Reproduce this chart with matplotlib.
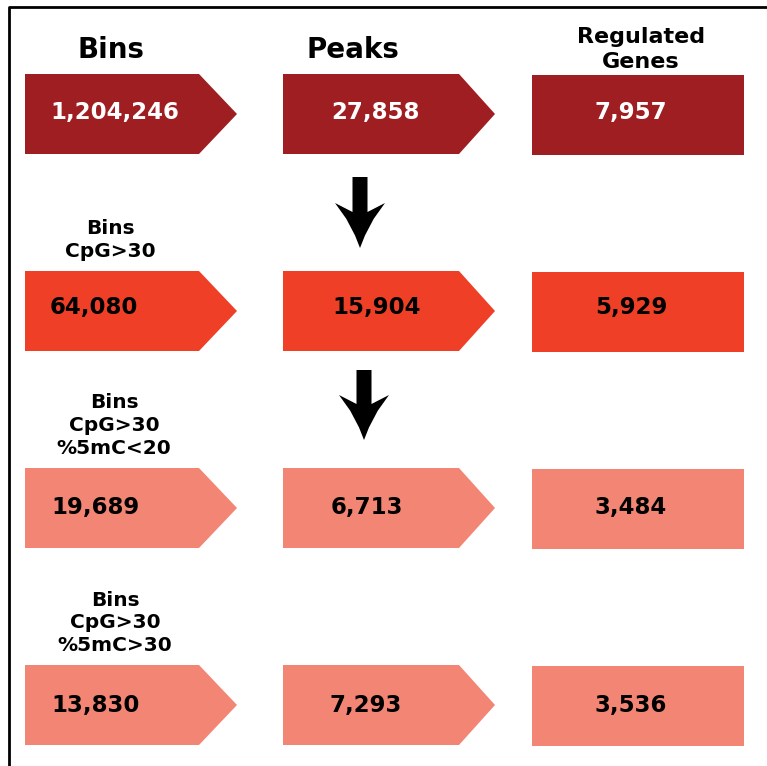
import matplotlib
matplotlib.use("Agg")
import matplotlib.pyplot as plt
from matplotlib.patches import Polygon, Rectangle

# ---- data ----
headers = ["Bins", "Peaks", "Regulated\nGenes"]
row_labels = ["", "Bins\nCpG>30", "Bins\nCpG>30\n%5mC<20", "Bins\nCpG>30\n%5mC>30"]
bins_counts = [1204246, 64080, 19689, 13830]
peaks_counts = [27858, 15904, 6713, 7293]
genes_counts = [7957, 5929, 3484, 3536]
row_colors = ["#9F1E22", "#EF4027", "#F38574", "#F38574"]
text_colors = ["white", "black", "black", "black"]

# ---- layout (pixel space) ----
W, H = 767, 766
row_top = [74, 271, 468, 665]
box_h = 80
baseline_off = [45, 43, 46, 47]
bins_x = (25, 199, 237)
peaks_x = (283, 459, 495)
genes_x = (532, 744)
bins_text_x = [115, 94, 95, 96]
peaks_text_x = [375, 377, 367, 366]
genes_text_x = 631
label_x = [0, 110, 114, 115]

plt.rcParams['font.family'] = ['DejaVu Sans']

fig = plt.figure(figsize=(W / 100, H / 100), dpi=100)
ax = fig.add_axes([0, 0, 1, 1])
ax.set_xlim(0, W)
ax.set_ylim(H, 0)
ax.axis("off")

# frame
ax.plot([9, 9, W], [H, 7, 7], color="black", lw=2, solid_capstyle="butt")

# headers
ax.text(111, 58, headers[0], ha="center", va="baseline", fontsize=20, fontweight="bold")
ax.text(353, 58, headers[1], ha="center", va="baseline", fontsize=20, fontweight="bold")
ax.text(641, 68, headers[2], ha="center", va="baseline", fontsize=16, fontweight="bold",
        linespacing=1.3)


def chevron(x, y0, color):
    x0, x1, tip = x
    y1 = y0 + box_h
    return Polygon([(x0, y0), (x1, y0), (tip, (y0 + y1) / 2), (x1, y1), (x0, y1)],
                   closed=True, facecolor=color, edgecolor="none")


for i in range(4):
    y0 = row_top[i]
    yb = y0 + baseline_off[i]
    c = row_colors[i]
    ax.add_patch(chevron(bins_x, y0, c))
    ax.add_patch(chevron(peaks_x, y0, c))
    ax.add_patch(Rectangle((genes_x[0], y0 + 1), genes_x[1] - genes_x[0], box_h,
                           facecolor=c, edgecolor="none"))
    tc = text_colors[i]
    kw = dict(ha="center", va="baseline", fontsize=16.5, fontweight="bold", color=tc)
    ax.text(bins_text_x[i], yb, f"{bins_counts[i]:,}", **kw)
    ax.text(peaks_text_x[i], yb, f"{peaks_counts[i]:,}", **kw)
    ax.text(genes_text_x, yb, f"{genes_counts[i]:,}", **kw)
    if row_labels[i]:
        ax.text(label_x[i], y0 - 14, row_labels[i], ha="center", va="baseline",
                fontsize=14.5, fontweight="bold", linespacing=1.25)


# down arrows (swept-back head)
def down_arrow(xc, ytop, ytip, shaft=15, head=50, head_len=45):
    s, h = shaft / 2, head / 2
    yh = ytip - head_len
    pts = [(xc - s, ytop), (xc + s, ytop), (xc + s, yh + 9), (xc + h, yh),
           (xc + h * 0.55, yh + head_len * 0.35), (xc + h * 0.2, yh + head_len * 0.72),
           (xc, ytip),
           (xc - h * 0.2, yh + head_len * 0.72), (xc - h * 0.55, yh + head_len * 0.35),
           (xc - h, yh), (xc - s, yh + 9)]
    return Polygon(pts, closed=True, facecolor="black", edgecolor="none")


for (xc, ytop, ytip) in [(360, 177, 248), (364, 370, 440)]:
    ax.add_patch(down_arrow(xc, ytop, ytip))

fig.savefig("out.png", dpi=100)
